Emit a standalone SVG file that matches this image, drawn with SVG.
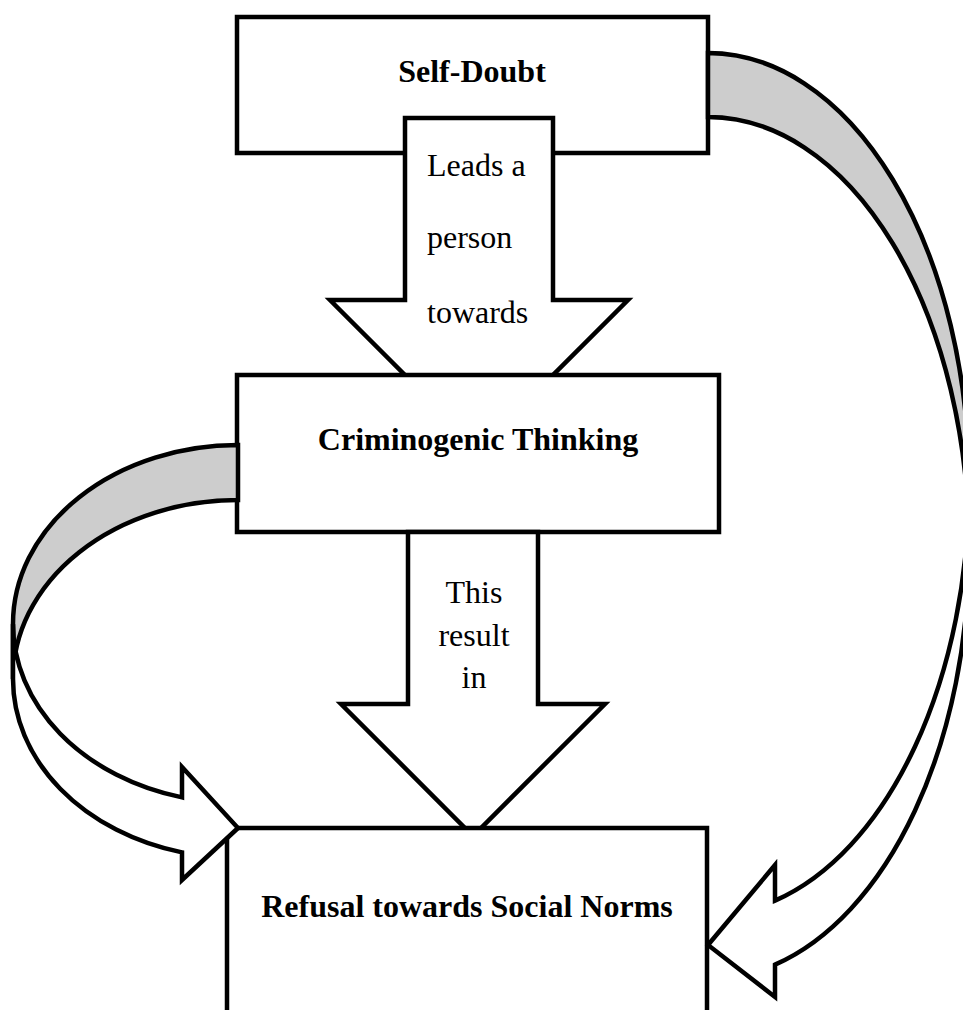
<svg xmlns="http://www.w3.org/2000/svg" width="963" height="1010" viewBox="0 0 963 1010">
  <defs>
    <style>
      .box { fill: #ffffff; stroke: #000000; stroke-width: 4.5; stroke-linejoin: miter; }
      .block { fill: #ffffff; stroke: #000000; stroke-width: 4.5; stroke-linejoin: miter; }
      .back { fill: #cdcdcd; stroke: #000000; stroke-width: 4.5; stroke-linejoin: miter; }
      .front { fill: #ffffff; stroke: #000000; stroke-width: 4.5; stroke-linejoin: miter; }
      .title { font-family: "Liberation Serif", "Times New Roman", serif; font-size: 32px; font-weight: bold; fill: #000000; text-anchor: middle; }
      .label { font-family: "Liberation Serif", "Times New Roman", serif; font-size: 32px; fill: #000000; }
    </style>
  </defs>
  <rect width="963" height="1010" fill="#ffffff"/>

  <!-- top node -->
  <g id="self-doubt">
    <rect class="box" x="237" y="17" width="471" height="136"/>
    <text class="title" x="472" y="82">Self-Doubt</text>
  </g>

  <!-- block arrow: Self-Doubt to Criminogenic Thinking -->
  <g id="connectors-straight">
    <g id="arrow-leads">
      <path class="block" d="M405,118 L553,118 L553,300 L628,300 L479,449 L330,300 L405,300 Z"/>
      <text class="label" x="427" y="176">Leads a</text>
      <text class="label" x="427" y="248">person</text>
      <text class="label" x="427" y="323">towards</text>
    </g>
  </g>

  <!-- middle node -->
  <g id="criminogenic-thinking">
    <rect class="box" x="237" y="375" width="482" height="157"/>
    <text class="title" x="478" y="450">Criminogenic Thinking</text>
  </g>

  <!-- block arrow: Criminogenic Thinking to Refusal -->
  <g id="connectors-straight-2">
    <g id="arrow-result">
      <path class="block" d="M408,532 L538,532 L538,704 L605,704 L473,836 L341,704 L408,704 Z"/>
      <text class="label" x="474" y="603" text-anchor="middle">This</text>
      <text class="label" x="474" y="646" text-anchor="middle">result</text>
      <text class="label" x="474" y="688" text-anchor="middle">in</text>
    </g>
  </g>

  <!-- bottom node (runs past the lower edge) -->
  <g id="refusal-social-norms">
    <rect class="box" x="227" y="828" width="480" height="220"/>
    <text class="title" x="467" y="917">Refusal towards Social Norms</text>
  </g>

  <!-- curved ribbon arrows -->
  <g id="connectors-curved">
    <g id="curve-left">
      <path class="back" d="M238,445 A225,179 0 0 0 13,624 L13,679 A225,179 0 0 1 238,500 Z"/>
      <path class="front" d="M13,624 A225,179 0 0 0 182,797.4 L182,767 L238,828 L182,880 L182,852.4 A225,179 0 0 1 13,679 Z"/>
    </g>
    <g id="curve-right">
      <path class="back" d="M708,53 A261,431 0 0 1 969,484 L969,548 A261,431 0 0 0 708,117 Z"/>
      <path class="front" d="M969,484 A261,431 0 0 1 775,900.6 L775,865 L708,945 L775,997 L775,964.6 A261,431 0 0 0 969,548 Z"/>
    </g>
  </g>
</svg>
